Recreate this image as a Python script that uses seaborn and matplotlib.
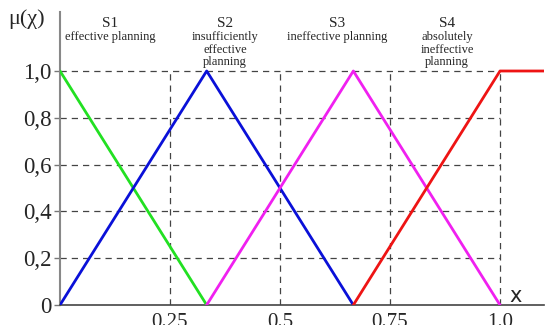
import matplotlib
matplotlib.use('Agg')
import matplotlib.pyplot as plt
import pandas as pd
import seaborn as sns

# membership functions: breakpoints and values
s1_x = [0.0, 1 / 3]
s1_y = [1.0, 0.0]
s2_x = [0.0, 1 / 3, 2 / 3]
s2_y = [0.0, 1.0, 0.0]
s3_x = [1 / 3, 2 / 3, 1.0]
s3_y = [0.0, 1.0, 0.0]
s4_x = [2 / 3, 1.0, 1.1]
s4_y = [0.0, 1.0, 1.0]

series = ["S1", "S2", "S3", "S4"]
colors = ["#22e022", "#0a10d8", "#f020f0", "#ee1414"]
titles = ["S1", "S2", "S3", "S4"]
subtitles = ["effective planning", "insufficiently\neffective\nplanning",
             "ineffective planning", "absolutely\nineffective\nplanning"]
title_x = [0.114, 0.375, 0.63, 0.88]

y_ticks = [0, 0.2, 0.4, 0.6, 0.8, 1.0]
y_labels = ["0", "0,2", "0,4", "0,6", "0,8", "1,0"]
x_ticks = [0.25, 0.5, 0.75, 1.0]
x_labels = ["0.25", "0.5", "0.75", "1.0"]

rows = []
for name, xs, ys in zip(series, [s1_x, s2_x, s3_x, s4_x], [s1_y, s2_y, s3_y, s4_y]):
    for x, y in zip(xs, ys):
        rows.append({"set": name, "x": x, "mu": y})
df = pd.DataFrame(rows)

sns.set_style("white")
plt.rcParams['font.family'] = ['Liberation Serif', 'DejaVu Serif']

fig = plt.figure(figsize=(5.46, 3.25), dpi=100)
ax = fig.add_axes([60 / 546, 20 / 325, 484 / 546, 293 / 325])

# dashed guide lines
ax.hlines(y_ticks[1:], 0, 1.0, colors="#444444", linestyles=(0, (5, 4)), lw=0.9, zorder=1)
ax.vlines(x_ticks, 0, 1.0, colors="#444444", linestyles=(0, (5, 4)), lw=0.9, zorder=1)

sns.lineplot(data=df, x="x", y="mu", hue="set", palette=colors, estimator=None,
             sort=False, units="set", lw=2, legend=False, ax=ax, zorder=3)

ax.set_xlim(0, 1.1)
ax.set_ylim(0, 293 / 234)
ax.set_yticks(y_ticks)
ax.set_yticklabels(y_labels, fontsize=16.5)
ax.set_xticks(x_ticks)
ax.set_xticklabels(x_labels, fontsize=15)
ax.tick_params(axis="y", length=4, width=1, color="#777777", pad=2, left=True)
ax.tick_params(axis="x", length=0, pad=6)
ax.set_xlabel("")
ax.set_ylabel("")

for side in ["top", "right"]:
    ax.spines[side].set_visible(False)
ax.spines["left"].set_color("#888888")
ax.spines["left"].set_linewidth(1.5)
ax.spines["bottom"].set_color("#444444")
ax.spines["bottom"].set_linewidth(1.2)

ax.text(-0.118, 1.222, "μ(χ)", fontsize=16, ha="left", va="center", clip_on=False)
ax.text(1.035, -0.005, "x", fontsize=15, ha="center", va="bottom", family="DejaVu Sans")

for tx, t, st in zip(title_x, titles, subtitles):
    ax.text(tx, 1.175, t, fontsize=11, ha="center", va="bottom")
    ax.text(tx, 1.17, st, fontsize=9, ha="center", va="top", linespacing=1.05)

fig.savefig("out.png", dpi=100)
